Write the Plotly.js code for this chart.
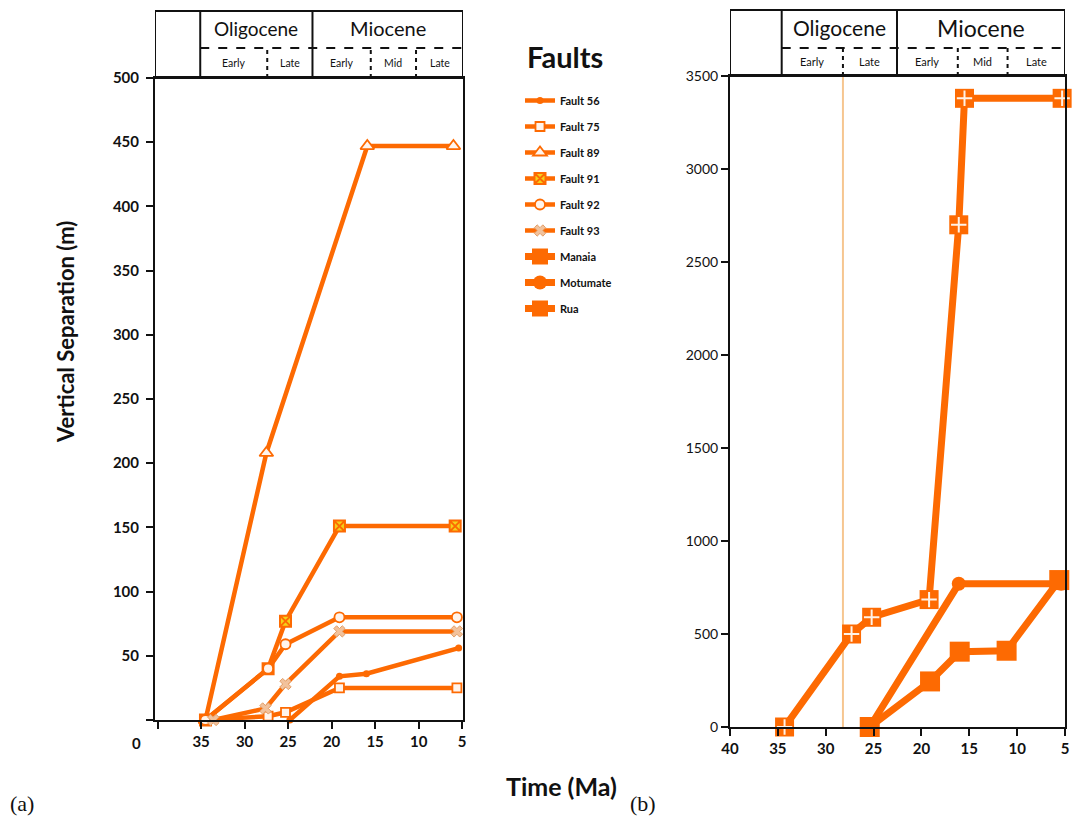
<!DOCTYPE html>
<html>
<head>
<meta charset="utf-8">
<script src="https://cdn.plot.ly/plotly-3.0.1.min.js"></script>
<style>
  html, body { margin: 0; padding: 0; background: #ffffff; }
  #chart { width: 1075px; height: 819px; }
</style>
</head>
<body>
<div id="chart"></div>
<script>
// ---- Panel (a): vertical separation history of individual faults (Ma, m) ----
const fault56Time = [24.8, 19.1, 16.0, 5.4];
const fault56Sep  = [0, 34, 36, 56];

const fault75Time = [34.5, 27.3, 25.3, 19.1, 5.6];
const fault75Sep  = [0, 3, 6, 25, 25];

const fault89Time = [34.5, 27.5, 15.9, 6.0];
const fault89Sep  = [0, 208, 447, 447];

const fault91Time = [34.5, 27.3, 25.3, 19.1, 5.8];
const fault91Sep  = [0, 40, 77, 151, 151];

const fault92Time = [34.5, 27.3, 25.3, 19.1, 5.6];
const fault92Sep  = [0, 40, 59, 80, 80];

const fault93Time = [33.6, 27.6, 25.3, 19.1, 5.6];
const fault93Sep  = [0, 9, 28, 69, 69];

// ---- Panel (b): major fault systems ----
const manaiaTime = [34.3, 27.3, 25.2, 19.2, 16.1, 15.5, 5.3];
const manaiaSep  = [0, 500, 590, 685, 2700, 3380, 3380];

const motumateTime = [25.4, 16.1, 5.4];
const motumateSep  = [0, 770, 770];

const ruaTime = [25.4, 19.1, 16.0, 11.1, 5.6];
const ruaSep  = [0, 245, 405, 410, 790];

// ---- Axis ticks ----
const leftTimeTicks  = [40, 35, 30, 25, 20, 15, 10, 5];
const leftTimeLabels = ['', '35', '30', '25', '20', '15', '10', '5'];
const leftSepTicks   = [0, 50, 100, 150, 200, 250, 300, 350, 400, 450, 500];
const leftSepLabels  = ['', '50', '100', '150', '200', '250', '300', '350', '400', '450', '500'];
const rightTimeTicks = [40, 35, 30, 25, 20, 15, 10, 5];
const rightSepTicks  = [0, 500, 1000, 1500, 2000, 2500, 3000, 3500];

// ---- Chronostratigraphic header (ages where each column boundary sits) ----
const epochNames = ['Oligocene', 'Miocene'];
const stageNames = ['Early', 'Late', 'Early', 'Mid', 'Late'];
const leftEpochEdges  = [35.1, 22.2, 4.9];
const leftStageEdges  = [35.1, 27.4, 22.2, 15.5, 10.3, 4.9];
const rightEpochEdges = [34.6, 22.55, 5.0];
const rightStageEdges = [34.6, 28.2, 22.55, 16.2, 11.0, 5.0];
const oligoceneSplit  = 28.2;   // Early/Late Oligocene marker line in panel (b)

// ---- Page geometry ----
const W = 1075, H = 819;
const px = v => v / W;          // page pixel -> paper x
const py = v => 1 - v / H;      // page pixel -> paper y

const ORANGE = '#fd6a02';
const FONT = 'Lato, "Open Sans", sans-serif';

const panels = {
  left:  { xRange: [40.3, 4.9], x0: 155, x1: 463, yTop: 78, yBot: 720, hTop: 11, hMid: 48 },
  right: { xRange: [40, 5],     x0: 730, x1: 1065, yTop: 76, yBot: 727, hTop: 10, hMid: 48 }
};

function faultTrace(name, t, v, marker, group) {
  return {
    type: 'scatter', mode: 'lines+markers', name: name,
    x: t, y: v, xaxis: 'x', yaxis: 'y', legendgroup: group,
    cliponaxis: false,
    line: { color: ORANGE, width: 4.5 },
    marker: marker
  };
}
function systemTrace(name, t, v, marker, group) {
  return {
    type: 'scatter', mode: 'lines+markers', name: name,
    x: t, y: v, xaxis: 'x2', yaxis: 'y2', legendgroup: group,
    cliponaxis: false,
    line: { color: ORANGE, width: 7 },
    marker: marker
  };
}

const traces = [
  faultTrace('Fault 56', fault56Time, fault56Sep,
    { symbol: 'circle', size: 7, color: ORANGE }, 'g1'),
  faultTrace('Fault 75', fault75Time, fault75Sep,
    { symbol: 'square', size: 9, color: '#fff4ec', line: { color: ORANGE, width: 1.8 } }, 'g2'),
  faultTrace('Fault 89', fault89Time, fault89Sep,
    { symbol: 'triangle-up', size: 12, color: '#fff4ec', line: { color: ORANGE, width: 1.8 } }, 'g3'),
  faultTrace('Fault 91', fault91Time, fault91Sep,
    { symbol: 'square-x', size: 11, color: '#f3d21a', line: { color: ORANGE, width: 2 } }, 'g4'),
  faultTrace('Fault 92', fault92Time, fault92Sep,
    { symbol: 'circle', size: 10, color: '#fff4ec', line: { color: ORANGE, width: 1.8 } }, 'g5'),
  faultTrace('Fault 93', fault93Time, fault93Sep,
    { symbol: 'x', size: 10, color: '#f2c29c', line: { color: '#e2a06a', width: 1 } }, 'g6'),
  systemTrace('Manaia', manaiaTime, manaiaSep,
    { symbol: 'square', size: 19, color: ORANGE }, 'g7'),
  // white plus inside each Manaia square
  {
    type: 'scatter', mode: 'markers', name: 'Manaia', showlegend: false, legendgroup: 'g7',
    x: manaiaTime, y: manaiaSep, xaxis: 'x2', yaxis: 'y2', cliponaxis: false,
    marker: { symbol: 'cross-thin', size: 11, line: { color: '#fff3e8', width: 2 } }
  },
  systemTrace('Motumate', motumateTime, motumateSep,
    { symbol: 'circle', size: 14, color: ORANGE }, 'g8'),
  systemTrace('Rua', ruaTime, ruaSep,
    { symbol: 'square', size: 20, color: ORANGE }, 'g9')
];

// Header boxes: outer frame, epoch dividers, dashed epoch/stage split, dashed stage dividers
function headerShapes(p, xref, epochEdges, stageEdges) {
  const s = [];
  const black = { color: '#111', width: 2 };
  const dashed = { color: '#111', width: 2, dash: 'dash' };
  s.push({ type: 'rect', xref: xref, yref: 'paper', x0: p.xRange[0], x1: p.xRange[1],
           y0: py(p.yTop), y1: py(p.hTop), line: black });
  epochEdges.forEach(e => s.push({ type: 'line', xref: xref, yref: 'paper', x0: e, x1: e,
           y0: py(p.yTop), y1: py(p.hTop), line: black }));
  s.push({ type: 'line', xref: xref, yref: 'paper', x0: epochEdges[0], x1: p.xRange[1],
           y0: py(p.hMid), y1: py(p.hMid), line: dashed });
  [stageEdges[1], stageEdges[3], stageEdges[4]].forEach(e => s.push({ type: 'line', xref: xref,
           yref: 'paper', x0: e, x1: e, y0: py(p.yTop), y1: py(p.hMid),
           line: { color: '#111', width: 2, dash: '4px,4px' } }));
  return s;
}
function label(x, y, text, font, extra) {
  return Object.assign({ x: x, y: y, text: text, showarrow: false,
    xanchor: 'center', yanchor: 'middle', font: font }, extra || {});
}
function headerLabels(p, xref, epochEdges, stageEdges, epochSizes, stageSize) {
  const a = [];
  epochNames.forEach((n, i) => a.push(label(
    (epochEdges[i] + epochEdges[i + 1]) / 2, py((p.hTop + p.hMid) / 2 - 1), n,
    { family: FONT, size: epochSizes[i], color: '#111' }, { xref: xref, yref: 'paper' })));
  stageNames.forEach((n, i) => a.push(label(
    (stageEdges[i] + stageEdges[i + 1]) / 2, py((p.hMid + p.yTop) / 2), n,
    { family: FONT, size: stageSize, color: '#111' }, { xref: xref, yref: 'paper' })));
  return a;
}

const shapes = [
  ...headerShapes(panels.left, 'x', leftEpochEdges, leftStageEdges),
  ...headerShapes(panels.right, 'x2', rightEpochEdges, rightStageEdges),
  { type: 'line', xref: 'x2', yref: 'y2', x0: oligoceneSplit, x1: oligoceneSplit,
    y0: 0, y1: 3500, line: { color: '#f6c690', width: 2 }, layer: 'below' }
];

const paperRef = { xref: 'paper', yref: 'paper' };
const serif = '"Liberation Serif", "Times New Roman", serif';
const annotations = [
  ...headerLabels(panels.left, 'x', leftEpochEdges, leftStageEdges, [19, 20], 10.5),
  ...headerLabels(panels.right, 'x2', rightEpochEdges, rightStageEdges, [21, 23], 11),
  label(px(565), py(57), '<b>Faults</b>', { family: FONT, size: 29, color: '#111' }, paperRef),
  label(px(65), py(332), '<b>Vertical Separation (m)</b>', { family: FONT, size: 22, color: '#111' },
    Object.assign({ textangle: -90 }, paperRef)),
  label(px(561), py(786), '<b>Time (Ma)</b>', { family: FONT, size: 25, color: '#111' }, paperRef),
  label(px(136), py(743), '<b>0</b>', { family: FONT, size: 15, color: '#111' }, paperRef),
  label(px(22), py(803), '(a)', { family: serif, size: 22, color: '#111' }, paperRef),
  label(px(643), py(803), '(b)', { family: serif, size: 22, color: '#111' }, paperRef)
];

const axisBase = {
  showline: true, linecolor: '#111', linewidth: 2, mirror: true,
  ticks: 'outside', ticklen: 7, tickwidth: 2, tickcolor: '#111',
  showgrid: false, zeroline: false, fixedrange: true
};

const layout = {
  width: W, height: H,
  margin: { l: 0, r: 0, t: 0, b: 0 },
  paper_bgcolor: '#ffffff', plot_bgcolor: '#ffffff',
  font: { family: FONT, color: '#111' },
  showlegend: true,
  legend: {
    x: px(520), y: py(86), xanchor: 'left', yanchor: 'top',
    bgcolor: 'rgba(0,0,0,0)', borderwidth: 0,
    tracegroupgap: 7, itemwidth: 30,
    font: { family: FONT, size: 11, color: '#111', weight: 'bold' }
  },
  xaxis: Object.assign({}, axisBase, {
    domain: [px(panels.left.x0), px(panels.left.x1)], anchor: 'y',
    range: panels.left.xRange, tickmode: 'array',
    tickvals: leftTimeTicks, ticktext: leftTimeLabels,
    tickfont: { family: FONT, size: 15, color: '#111', weight: 'bold' }
  }),
  yaxis: Object.assign({}, axisBase, {
    domain: [py(panels.left.yBot), py(panels.left.yTop)], anchor: 'x',
    range: [0, 500], tickmode: 'array',
    tickvals: leftSepTicks, ticktext: leftSepLabels, ticklabelstandoff: 4,
    tickfont: { family: FONT, size: 15, color: '#111', weight: 'bold' }
  }),
  xaxis2: Object.assign({}, axisBase, {
    domain: [px(panels.right.x0), px(panels.right.x1)], anchor: 'y2',
    range: panels.right.xRange, tickmode: 'array',
    tickvals: rightTimeTicks,
    tickfont: { family: FONT, size: 15, color: '#111', weight: 'bold' }
  }),
  yaxis2: Object.assign({}, axisBase, {
    domain: [py(panels.right.yBot), py(panels.right.yTop)], anchor: 'x2',
    range: [0, 3500], tickmode: 'array',
    tickvals: rightSepTicks,
    tickfont: { family: FONT, size: 14, color: '#111' }
  }),
  shapes: shapes,
  annotations: annotations
};

Plotly.newPlot('chart', traces, layout, { displayModeBar: false, staticPlot: true });
</script>
</body>
</html>
